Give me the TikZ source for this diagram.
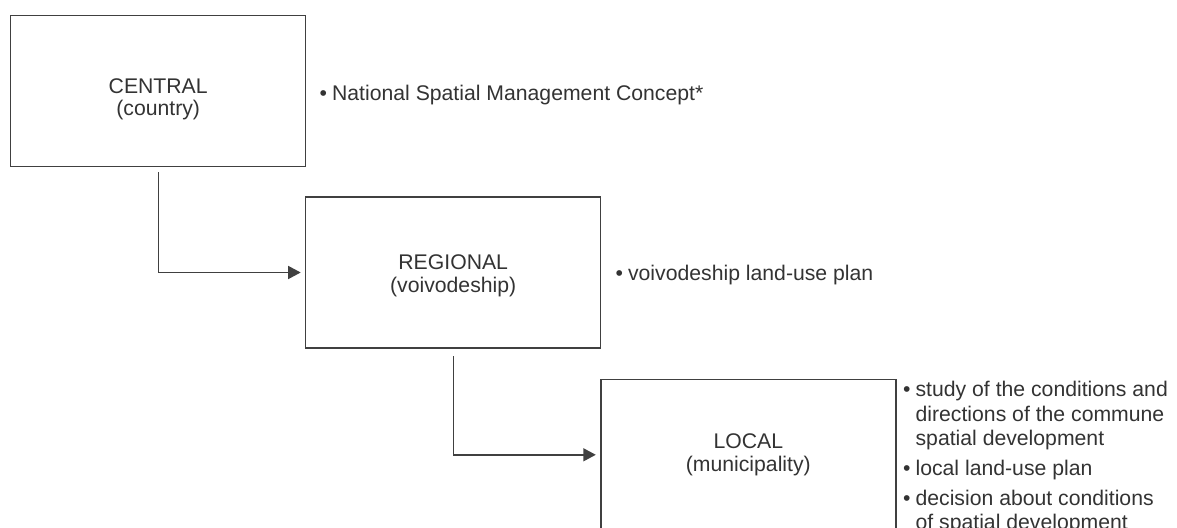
\documentclass[tikz,border=0pt]{standalone}
\usepackage{fontspec}
\setmainfont{Liberation Sans}
\usetikzlibrary{arrows.meta}
\definecolor{txt}{HTML}{333333}
\definecolor{ln}{HTML}{404040}
\newcommand\bulletitem{\textbullet\hspace{5pt}}
\newcommand\bulletgap{\phantom{\textbullet}\hspace{5pt}}
\begin{document}
\begin{tikzpicture}[x=1pt,y=-1pt,
  levelbox/.style={draw=ln, line width=1.4pt, minimum width=295pt, minimum height=151pt, inner sep=0pt, outer sep=0pt},
  leveltext/.style={text=txt, align=center, font=\fontsize{21.2}{22.5}\selectfont, inner sep=0pt},
  desc/.style={text=txt, anchor=base west, inner sep=0pt, font=\fontsize{21.2}{24.3}\selectfont},
  conn/.style={draw=ln, line width=1.4pt, -{Triangle[length=12.5pt,width=13pt]}, shorten >=5pt}]
\useasboundingbox (0,0) rectangle (1177,527);
\clip (0,0) rectangle (1177,527);
\fill[white] (0,0) rectangle (1177,527);
% boxes
\node[levelbox] (central) at (158.2,91) {};
\node[levelbox] (regional) at (453.2,272.5) {};
\node[levelbox] (local) at (748.3,454.8) {};
% box labels
\node[leveltext] (centralT) at ([yshift=-8.2pt]central.center) {CENTRAL\\(country)};
\node[leveltext] (regionalT) at ([yshift=-3.4pt]regional.center) {REGIONAL\\(voivodeship)};
\node[leveltext] (localT) at ([yshift=-0.2pt]local.center) {LOCAL\\(municipality)};
% descriptions
\node[desc] (centralD) at (319.5,100.5) {\bulletitem National Spatial Management Concept*};
\node[desc] (regionalD) at (615.5,280.7) {\bulletitem voivodeship land-use plan};
\node[desc] (localD) at (903,396.7) {\parbox[t]{280pt}{\fontsize{21.2}{24.3}\selectfont\raggedright
  \bulletitem study of the conditions and\\
  \bulletgap directions of the commune\\
  \bulletgap spatial development\\[5.7pt]
  \bulletitem local land-use plan\\[5.7pt]
  \bulletitem decision about conditions\\
  \bulletgap of spatial development}};
% connectors
\draw[conn, shorten <=5.5pt] (central.south) |- (regional.west);
\draw[conn, shorten <=8pt] (regional.south) |- (local.west);
\end{tikzpicture}
\end{document}
